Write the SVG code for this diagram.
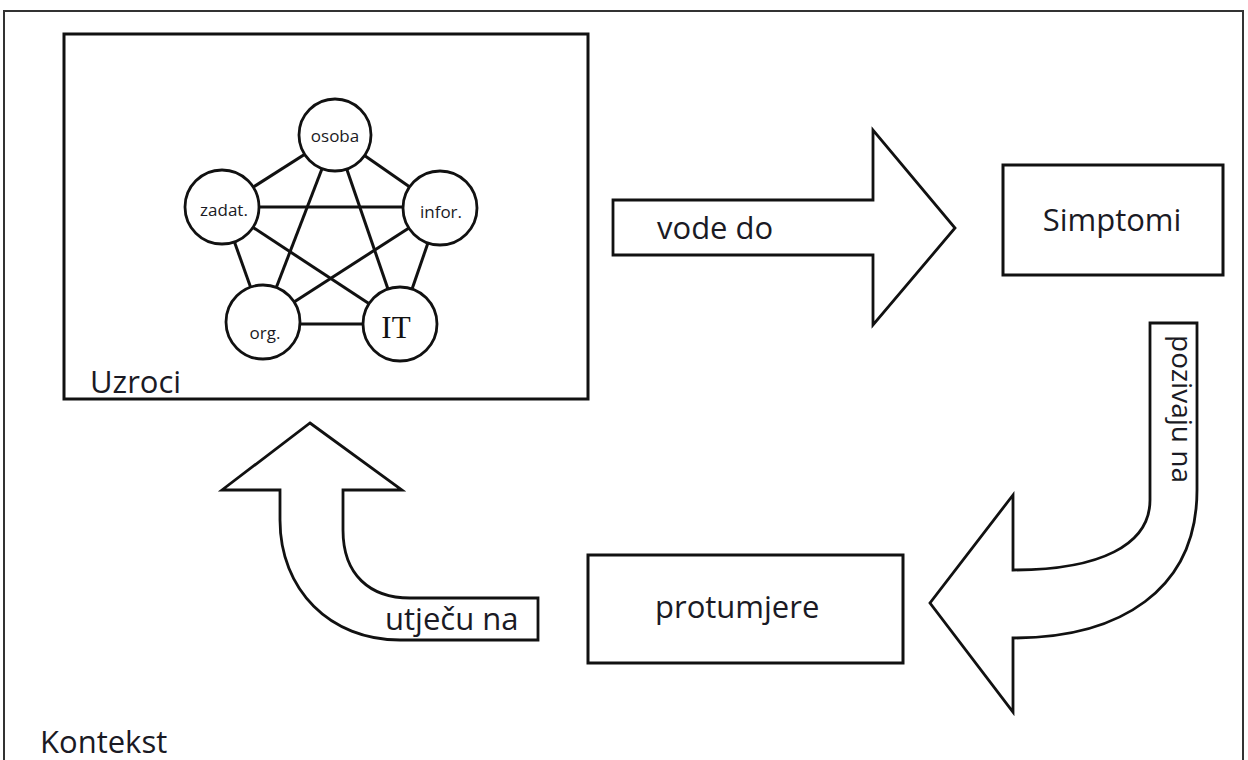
<svg xmlns="http://www.w3.org/2000/svg" width="1248" height="760" viewBox="0 0 1248 760">
<style>
.box{fill:#fff;stroke:#111;stroke-width:3}
.arrow{fill:#fff;stroke:#111;stroke-width:2.8;stroke-linejoin:miter}
.edge{stroke:#111;stroke-width:3;fill:none}
.circ{fill:#fff;stroke:#111;stroke-width:2.8}
.big{font-family:"Open Sans","Noto Sans",sans-serif;font-size:31px;fill:#1a1a24}
.sm{font-family:"Open Sans","Noto Sans",sans-serif;font-size:17px;fill:#1a1a24;text-anchor:middle}
.it{font-family:"Liberation Serif","DejaVu Serif",serif;font-size:31px;fill:#111;text-anchor:middle}
</style>
<rect x="0" y="0" width="1248" height="760" fill="#fff"/>
<g id="kontekst">
<rect x="4" y="11" width="1239" height="780" fill="none" stroke="#333" stroke-width="2"/>
<text class="big" x="40" y="753">Kontekst</text>
</g>
<g id="uzroci">
<rect class="box" x="64" y="34" width="524" height="365"/>
<text class="big" x="90" y="393">Uzroci</text>
</g>
<g id="connectors">
<line class="edge" x1="335" y1="135" x2="222" y2="207"/>
<line class="edge" x1="335" y1="135" x2="440" y2="208"/>
<line class="edge" x1="335" y1="135" x2="263" y2="322"/>
<line class="edge" x1="335" y1="135" x2="400" y2="324"/>
<line class="edge" x1="222" y1="207" x2="440" y2="207"/>
<line class="edge" x1="222" y1="207" x2="263" y2="322"/>
<line class="edge" x1="222" y1="207" x2="400" y2="324"/>
<line class="edge" x1="440" y1="208" x2="263" y2="322"/>
<line class="edge" x1="440" y1="208" x2="400" y2="324"/>
<line class="edge" x1="263" y1="324" x2="400" y2="324"/>
</g>
<g id="osoba">
<circle class="circ" cx="335" cy="135" r="36"/>
<text class="sm" x="335" y="142">osoba</text>
</g>
<g id="zadat">
<circle class="circ" cx="222" cy="207" r="37"/>
<text class="sm" x="224" y="216">zadat.</text>
</g>
<g id="infor">
<circle class="circ" cx="440" cy="208" r="37"/>
<text class="sm" x="441" y="218">infor.</text>
</g>
<g id="org">
<circle class="circ" cx="263" cy="322" r="37"/>
<text class="sm" x="265" y="339">org.</text>
</g>
<g id="IT">
<circle class="circ" cx="400" cy="324" r="37"/>
<text class="it" x="396" y="338">IT</text>
</g>
<g id="vode-do">
<path class="arrow" d="M613,200 L873,200 L873,130 L955,228 L873,325 L873,255 L613,255 Z"/>
<text class="big" x="657" y="239">vode do</text>
</g>
<g id="simptomi">
<rect class="box" x="1003" y="165" width="220" height="110"/>
<text class="big" x="1112" y="231" text-anchor="middle">Simptomi</text>
</g>
<g id="pozivaju-na">
<path class="arrow" d="M1150,323 L1197,323 L1197,490 C1197,590 1120,638 1013,638 L1013,712 L930,603 L1013,495 L1013,570 C1100,570 1150,545 1150,500 Z"/>
<text class="big" transform="translate(1172,335) rotate(90)" style="font-size:28px">pozivaju na</text>
</g>
<g id="protumjere">
<rect class="box" x="588" y="555" width="315" height="108"/>
<text class="big" x="655" y="618">protumjere</text>
</g>
<g id="utjecu-na">
<path class="arrow" d="M310,423 L402,490 L343,490 L343,530 C343,575 370,598 410,598 L538,598 L538,640 L400,640 C330,640 280,590 280,520 L280,490 L222,490 Z"/>
<text class="big" x="385" y="630">utječu na</text>
</g>
</svg>
